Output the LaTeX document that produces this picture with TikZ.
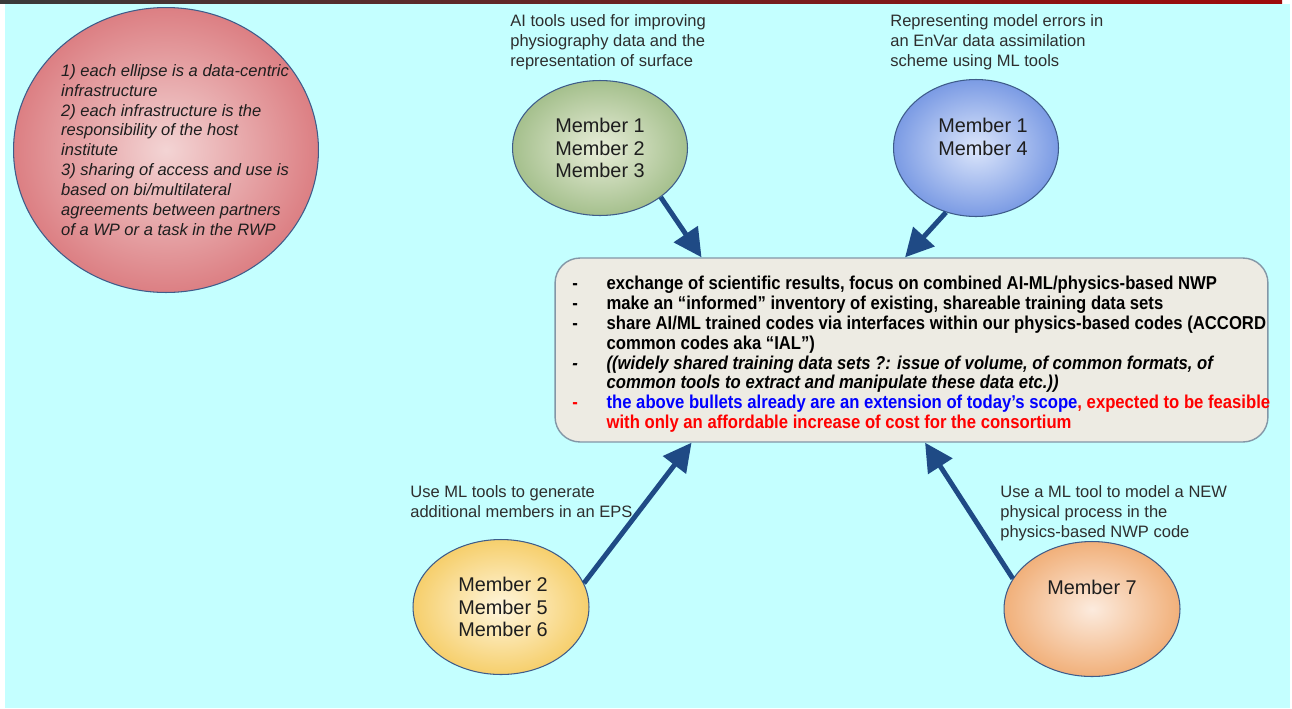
\documentclass[tikz,border=0pt]{standalone}
\usepackage{fontspec}
\setmainfont{Liberation Sans}
\newfontfamily\narrowfont[FakeStretch=0.895]{Liberation Sans}
\usetikzlibrary{shapes.geometric,arrows.meta,calc}
\definecolor{bgcyan}{HTML}{C4FFFF}
\definecolor{topgrey}{HTML}{3A3A3A}
\definecolor{topteal}{HTML}{1FB3B3}
\definecolor{topred}{HTML}{9E0A0A}
\definecolor{ellline}{HTML}{3E5C8A}
\definecolor{arrowblue}{HTML}{1F4A85}
\definecolor{boxfill}{HTML}{EDEBE3}
\definecolor{boxline}{HTML}{8396A6}
\definecolor{textdark}{HTML}{1E1E1E}
\definecolor{labelgrey}{HTML}{2E2E2E}
\definecolor{redin}{HTML}{F3D4D4}
\definecolor{redout}{HTML}{DC7F83}
\definecolor{greenin}{HTML}{E8EDD9}
\definecolor{greenout}{HTML}{A5C08D}
\definecolor{bluein}{HTML}{DCE6FB}
\definecolor{blueout}{HTML}{7B9BE4}
\definecolor{yellowin}{HTML}{FFF6DE}
\definecolor{yellowout}{HTML}{F6CF6C}
\definecolor{orangein}{HTML}{FCEBDE}
\definecolor{orangeout}{HTML}{F1B07A}
\begin{document}
\begin{tikzpicture}[x=0.02cm,y=-0.02cm]
 \tikzset{ell/.style={draw=ellline, ellipse, inner sep=0pt, line width=0.6pt},
   directed/.style={-{Triangle[length=16pt,width=16pt]}, line width=2.8pt, draw=arrowblue, fill=arrowblue},
   topic/.style={anchor=north west, inner sep=0pt, align=left, text=labelgrey, font=\fontsize{9.4}{11.34}\selectfont},
   members/.style={align=center, text=textdark, font=\fontsize{11.3}{13}\selectfont}}
  \useasboundingbox (0,0) rectangle (1292,708);
  \fill[white] (0,0) rectangle (1292,708);
  \fill[bgcyan] (5,4) rectangle (1290,708);
  \shade[left color=topgrey, middle color=topteal, right color=topred] (0,0) rectangle (1282,3);
  \node[ell, inner color=redin, outer color=redout, minimum width=6.1cm, minimum height=5.7cm,
    label={[xshift=0.18cm, align=left, text=textdark, font=\itshape\fontsize{9.4}{11.34}\selectfont]center:1) each ellipse is a data-centric\\infrastructure\\2) each infrastructure is the\\responsibility of the host\\institute\\3) sharing of access and use is\\based on bi/multilateral\\agreements between partners\\of a WP or a task in the RWP}] (NOTE) at (166,150) {};
  \node[ell, inner color=greenin, outer color=greenout, minimum width=3.5cm, minimum height=2.7cm,
    label={[members]center:Member 1\\Member 2\\Member 3}] (GREEN) at (600,148) {};
  \node[ell, inner color=bluein, outer color=blueout, minimum width=3.3cm, minimum height=2.74cm,
    label={[members, xshift=0.14cm, yshift=0.22cm]center:Member 1\\Member 4}] (BLUE) at (976,148) {};
  \node[ell, inner color=yellowin, outer color=yellowout, minimum width=3.52cm, minimum height=2.7cm,
    label={[members, xshift=0.04cm]center:Member 2\\Member 5\\Member 6}] (YELLOW) at (501,607) {};
  \node[ell, inner color=orangein, outer color=orangeout, minimum width=3.52cm, minimum height=2.7cm,
    label={[members, yshift=0.44cm]center:Member 7}] (ORANGE) at (1092,609) {};
  \node[topic] (LGREEN) at (510,14) {AI tools used for improving\\physiography data and the\\representation of surface};
  \node[topic] (LBLUE) at (890,14) {Representing model errors in\\an EnVar data assimilation\\scheme using ML tools};
  \node[topic] (LYELLOW) at (410,485) {Use ML tools to generate\\additional members in an EPS};
  \node[topic] (LORANGE) at (1000,485) {Use a ML tool to model a NEW\\physical process in the\\physics-based NWP code};
  \node[draw=boxline, fill=boxfill, rounded corners=0.5cm, line width=0.8pt, minimum width=14.26cm, minimum height=3.68cm] (BOX) at (911.5,350) {};
  \node[anchor=north west, inner sep=0pt, text=black, font=\narrowfont\bfseries\fontsize{10.6}{11.34}\selectfont] (BULLETS) at (572,275) {%
    \begin{tabular}{@{}p{19.5pt}@{}l@{}}
    - & exchange of scientific results, focus on combined AI-ML/physics-based NWP\\
    - & make an “informed” inventory of existing, shareable training data sets\\
    - & share AI/ML trained codes via interfaces within our physics-based codes (ACCORD\\
      & common codes aka “IAL”)\\
    \itshape - & \itshape ((widely shared training data sets ?: issue of volume, of common formats, of\\
      & \itshape common tools to extract and manipulate these data etc.))\\
    \textcolor{red}{-} & \textcolor{blue}{the above bullets already are an extension of today’s scope}\textcolor{red}{, expected to be feasible}\\
      & \textcolor{red}{with only an affordable increase of cost for the consortium}
    \end{tabular}};
  \draw[directed] (GREEN.-39) -- ($(BOX.north west)!0.206!(BOX.north east)$);
  \draw[directed] (BLUE.-115) -- ($(BOX.north west)!0.491!(BOX.north east)$);
  \draw[directed] (YELLOW.16) -- ($(BOX.south west)!0.192!(BOX.south east)$);
  \draw[directed] (ORANGE.159) -- ($(BOX.south west)!0.519!(BOX.south east)$);
%  \draw[dashed] (NOTE) -- (BOX);
\end{tikzpicture}
\end{document}
